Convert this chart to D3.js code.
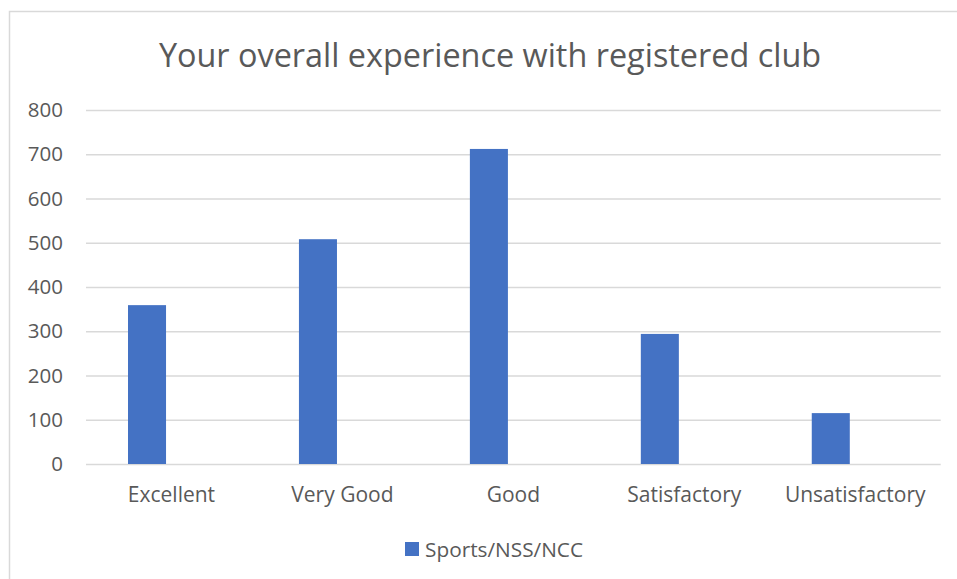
<!DOCTYPE html>
<html>
<head>
<meta charset="utf-8">
<script src="https://cdn.jsdelivr.net/npm/d3@7"></script>
<style>
  html, body { margin: 0; padding: 0; background: #fff; overflow: hidden; }
  svg { display: block; font-family: "Open Sans", "Noto Sans", sans-serif; }
</style>
</head>
<body>
<div id="draw"></div>
<script>
// chart data
const title = 'Your overall experience with registered club';
const seriesName = 'Sports/NSS/NCC';
const categories = ['Excellent', 'Very Good', 'Good', 'Satisfactory', 'Unsatisfactory'];
const values = [359, 508, 712, 294, 115];
const yTicks = [0, 100, 200, 300, 400, 500, 600, 700, 800];

let width = 957,
    height = 579,
    margin = { top: 110, left: 86, bottom: 115, right: 16.3 };

let font = '"Open Sans", "Noto Sans", sans-serif',
    textColor = '#595959',
    gridColor = '#d9d9d9',
    barColor = '#4472c4';

let svg = d3.select('#draw')
    .append('svg')
    .attr('width', width)
    .attr('height', height);

// chart area border (runs off the right / bottom edge in the original)
svg.append('rect')
    .attr('x', 9.5)
    .attr('y', 11.5)
    .attr('width', 1000)
    .attr('height', 700)
    .attr('fill', '#fff')
    .attr('stroke', gridColor)
    .attr('stroke-width', 1.5);

svg.append('text')
    .attr('x', 490)
    .attr('y', 66.5)
    .attr('text-anchor', 'middle')
    .attr('fill', textColor)
    .style('font-size', '32.4px')
    .text(title);

let plotW = width - margin.left - margin.right,
    plotH = height - margin.top - margin.bottom;

let g = svg.append('g')
    .attr('transform', 'translate(' + margin.left + ',' + margin.top + ')');

let xScale = d3.scaleBand().domain(categories).range([0, plotW]).padding(0),
    yScale = d3.scaleLinear().domain([0, 800]).range([plotH, 0]);

// gridlines + tick labels
let yAxis = g.append('g')
    .call(d3.axisLeft(yScale).tickValues(yTicks).tickSizeInner(-plotW).tickSizeOuter(0).tickPadding(23))
    .attr('font-family', font)
    .attr('font-size', 20.5);
yAxis.select('.domain').remove();
yAxis.selectAll('line').attr('stroke', gridColor).attr('stroke-width', 1.3);
yAxis.selectAll('text').attr('fill', textColor);

// bars sit left of the category centre, like a clustered column with one series
let bw = xScale.bandwidth();
g.append('g')
    .selectAll('rect')
    .data(categories.map((c, i) => ({ cat: c, value: values[i] })))
    .enter()
    .append('rect')
    .attr('x', d => xScale(d.cat) + bw * 0.2457)
    .attr('width', bw * 0.2225)
    .attr('y', d => yScale(d.value))
    .attr('height', d => plotH - yScale(d.value))
    .attr('fill', barColor);

let xAxis = g.append('g')
    .attr('transform', 'translate(0,' + plotH + ')')
    .call(d3.axisBottom(xScale).tickSize(0).tickPadding(23))
    .attr('font-family', font)
    .attr('font-size', 21);
xAxis.select('.domain').remove();
xAxis.selectAll('text').attr('fill', textColor);

// legend
let legend = svg.append('g').attr('transform', 'translate(405,542)');
legend.append('rect')
    .attr('width', 14)
    .attr('height', 14)
    .attr('fill', barColor);
legend.append('text')
    .attr('x', 20)
    .attr('y', 14.5)
    .attr('fill', textColor)
    .style('font-size', '20.8px')
    .text(seriesName);
</script>
</body>
</html>
